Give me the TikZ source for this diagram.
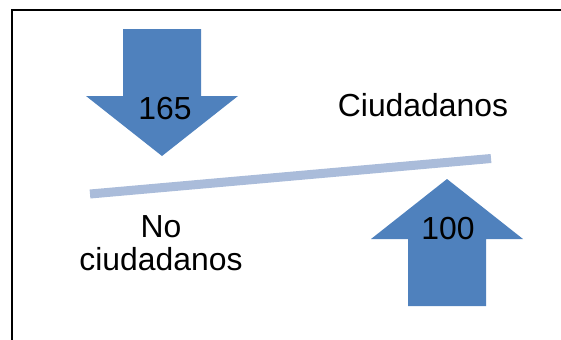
\documentclass[tikz,border=0pt]{standalone}
\usepackage{fontspec}
\setmainfont{Liberation Sans}
\definecolor{arrowblue}{HTML}{4F81BD}
\definecolor{barblue}{HTML}{AABCDA}
\begin{document}
\begin{tikzpicture}[x=1bp,y=-1bp,
  lbl/.style={font=\fontsize{32}{33}\selectfont, inner sep=0pt, align=center},
  arr/.style={fill=arrowblue, draw=none}]
\useasboundingbox (0,0) rectangle (561,339);
% frame
\draw[line width=2bp] (11.5,340) -- (11.5,10.3) -- (562,10.3);
% down arrow
\fill[arr] (123,29) -- (201,29) -- (201,96) -- (238,96) -- (162,156) -- (86,96) -- (123,96) -- cycle;
% up arrow
\fill[arr] (408,306) -- (486,306) -- (486,239) -- (523,239) -- (447,179) -- (371,239) -- (408,239) -- cycle;
% bar
\coordinate (bl) at (90,194);
\coordinate (br) at (491,158.5);
\draw[barblue, line width=9bp] (bl) -- (br);
% labels
\node[lbl] (n165) at (165,109) {165};
\node[lbl] (n100) at (448,229) {100};
\node[lbl] (ciu) at (423,105) {Ciudadanos};
\node[lbl] (noc) at (161,243) {No\\ciudadanos};
\end{tikzpicture}
\end{document}
